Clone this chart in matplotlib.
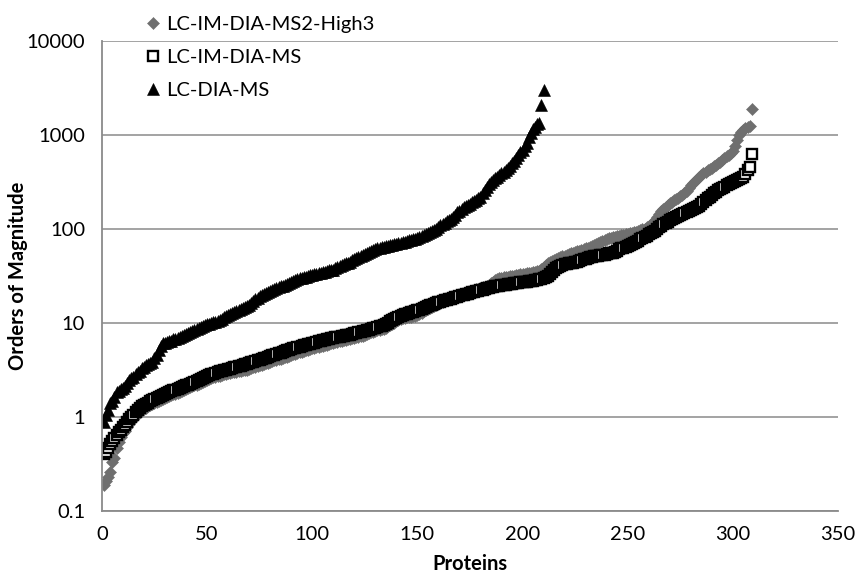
import matplotlib.pyplot as plt
from matplotlib.ticker import FixedLocator, FuncFormatter, NullLocator


SERIES_NAMES = ["LC-IM-DIA-MS2-High3", "LC-IM-DIA-MS", "LC-DIA-MS"]

# LC-IM-DIA-MS2-High3, proteins 1..309 (sorted)
high3_values = [
    0.19, 0.21, 0.23, 0.26, 0.33, 0.37, 0.47, 0.55, 0.62, 0.67,
    0.72, 0.78, 0.84, 0.9, 0.96, 1.02, 1.08, 1.14, 1.18, 1.22,
    1.26, 1.3, 1.34, 1.38, 1.42, 1.45, 1.48, 1.52, 1.55, 1.59,
    1.62, 1.66, 1.7, 1.74, 1.78, 1.82, 1.86, 1.9, 1.95, 2.0,
    2.03, 2.07, 2.12, 2.17, 2.22, 2.27, 2.32, 2.38, 2.44, 2.5,
    2.56, 2.61, 2.66, 2.7, 2.73, 2.76, 2.8, 2.84, 2.88, 2.92,
    2.95, 2.98, 3.02, 3.05, 3.08, 3.11, 3.14, 3.17, 3.2, 3.26,
    3.32, 3.38, 3.44, 3.5, 3.56, 3.62, 3.68, 3.74, 3.8, 3.87,
    3.94, 4.0, 4.06, 4.12, 4.18, 4.24, 4.32, 4.4, 4.48, 4.56,
    4.64, 4.72, 4.8, 4.88, 4.96, 5.04, 5.12, 5.2, 5.3, 5.4,
    5.45, 5.5, 5.58, 5.66, 5.74, 5.82, 5.9, 5.98, 6.06, 6.14,
    6.22, 6.3, 6.38, 6.46, 6.54, 6.62, 6.7, 6.78, 6.86, 6.95,
    7.05, 7.15, 7.25, 7.35, 7.5, 7.65, 7.8, 7.95, 8.1, 8.25,
    8.4, 8.5, 8.55, 8.6, 8.9, 9.2, 9.5, 9.8, 10.1, 10.4,
    10.7, 11.0, 11.2, 11.4, 11.5, 11.6, 11.7, 11.8, 12.0, 12.3,
    12.6, 12.9, 13.3, 13.7, 14.1, 14.5, 14.9, 15.3, 15.7, 16.1,
    16.5, 16.9, 17.2, 17.5, 17.8, 18.1, 18.4, 18.8, 19.2, 19.6,
    20.0, 20.4, 20.8, 21.2, 21.6, 22.0, 22.4, 22.8, 23.2, 23.6,
    24.0, 24.4, 24.8, 25.5, 26.5, 27.5, 28.5, 29.3, 29.8, 30.2,
    30.5, 30.8, 31.1, 31.4, 31.7, 32.0, 32.3, 32.6, 32.9, 33.2,
    33.5, 33.8, 34.1, 34.4, 34.7, 35.0, 35.5, 36.0, 37.5, 39.0,
    41.0, 43.0, 44.5, 46.0, 47.0, 48.0, 49.0, 50.0, 51.0, 52.0,
    53.0, 54.0, 55.0, 56.0, 57.0, 58.0, 59.0, 60.0, 61.0, 62.0,
    63.5, 65.0, 66.5, 68.0, 69.5, 71.0, 73.0, 75.0, 77.0, 78.5,
    80.0, 81.0, 82.0, 83.0, 84.0, 85.0, 86.0, 87.0, 88.0, 89.0,
    90.0, 91.0, 92.0, 93.5, 95.0, 97.0, 99.0, 101.0, 104.0, 108.0,
    112, 116, 124, 134, 145, 155, 163, 172, 180, 188,
    195, 202, 209, 216, 222, 228, 240, 255, 270, 290,
    305, 320, 340, 360, 375, 390, 405, 420, 435, 450,
    465, 480, 500, 520, 540, 565, 590, 615, 640, 680,
    760, 880, 1000, 1080, 1130, 1170, 1200, 1250, 1900,
]

# LC-IM-DIA-MS, proteins 1..309 (sorted)
im_values = [
    0.41, 0.43, 0.47, 0.52, 0.56, 0.6, 0.65, 0.69, 0.73, 0.78,
    0.83, 0.88, 0.95, 1.0, 1.05, 1.12, 1.18, 1.25, 1.3, 1.34,
    1.38, 1.42, 1.47, 1.52, 1.56, 1.6, 1.64, 1.68, 1.72, 1.76,
    1.8, 1.84, 1.88, 1.92, 1.96, 2.0, 2.04, 2.08, 2.12, 2.17,
    2.21, 2.25, 2.3, 2.36, 2.42, 2.48, 2.54, 2.6, 2.66, 2.72,
    2.78, 2.84, 2.9, 2.96, 3.02, 3.06, 3.1, 3.14, 3.18, 3.22,
    3.27, 3.32, 3.37, 3.42, 3.47, 3.52, 3.58, 3.64, 3.7, 3.76,
    3.82, 3.88, 3.94, 4.0, 4.07, 4.14, 4.21, 4.28, 4.36, 4.44,
    4.52, 4.6, 4.68, 4.76, 4.85, 4.94, 5.03, 5.12, 5.21, 5.3,
    5.38, 5.46, 5.54, 5.62, 5.7, 5.78, 5.86, 5.94, 6.02, 6.1,
    6.2, 6.3, 6.4, 6.5, 6.58, 6.66, 6.74, 6.82, 6.9, 6.98,
    7.05, 7.12, 7.19, 7.26, 7.33, 7.4, 7.47, 7.55, 7.65, 7.75,
    7.85, 7.95, 8.05, 8.15, 8.25, 8.35, 8.45, 8.6, 8.75, 8.9,
    9.05, 9.2, 9.35, 9.5, 9.8, 10.1, 10.4, 10.7, 11.0, 11.3,
    11.5, 11.8, 12.1, 12.4, 12.6, 12.8, 13.0, 13.2, 13.4, 13.6,
    13.9, 14.2, 14.5, 14.8, 15.1, 15.4, 15.7, 16.0, 16.3, 16.6,
    16.9, 17.2, 17.4, 17.6, 17.9, 18.2, 18.5, 18.8, 19.1, 19.4,
    19.7, 20.0, 20.3, 20.6, 20.9, 21.2, 21.5, 21.8, 22.1, 22.4,
    22.7, 23.0, 23.3, 23.6, 23.9, 24.2, 24.5, 24.8, 25.0, 25.2,
    25.4, 25.6, 25.8, 26.0, 26.2, 26.4, 26.6, 26.8, 27.0, 27.2,
    27.4, 27.6, 27.8, 28.0, 28.3, 28.6, 28.9, 29.2, 29.6, 30.0,
    30.5, 31.5, 33.0, 35.0, 37.0, 38.5, 39.5, 40.5, 41.5, 42.0,
    42.5, 43.0, 43.5, 44.0, 44.5, 45.0, 45.5, 46.5, 47.5, 48.5,
    49.5, 50.0, 50.5, 51.0, 51.5, 52.0, 52.5, 53.0, 53.5, 54.5,
    55.0, 55.5, 56.0, 57.5, 59.0, 60.5, 62.0, 63.5, 65.0, 66.5,
    68.0, 69.5, 71.0, 73.0, 75.0, 77.5, 80.0, 82.5, 85.0, 87.5,
    90, 93, 96, 100, 104, 108, 112, 116, 120, 124,
    127, 130, 133, 136, 140, 144, 148, 152, 156, 160,
    164, 168, 172, 176, 183, 192, 201, 211, 221, 231,
    240, 250, 258, 266, 274, 282, 290, 298, 306, 314,
    322, 330, 338, 346, 354, 380, 420, 460, 620,
]

# LC-DIA-MS, proteins 1..210 (sorted)
dia_values = [
    0.88, 1.05, 1.2, 1.4, 1.5, 1.65, 1.85, 1.9, 2.0, 2.05,
    2.15, 2.3, 2.5, 2.6, 2.7, 2.85, 3.0, 3.1, 3.3, 3.4,
    3.6, 3.7, 3.8, 3.9, 4.2, 4.6, 5.2, 5.7, 6.1, 6.2,
    6.3, 6.4, 6.5, 6.7, 6.8, 7.0, 7.1, 7.3, 7.4, 7.6,
    7.8, 8.0, 8.2, 8.4, 8.6, 8.9, 9.1, 9.3, 9.5, 9.7,
    9.8, 10.0, 10.2, 10.3, 10.5, 10.8, 11.1, 11.5, 11.9, 12.2,
    12.5, 12.7, 13.0, 13.4, 13.8, 14.1, 14.5, 14.8, 15.2, 15.5,
    16.3, 17.0, 17.8, 18.6, 19.2, 19.8, 20.3, 20.7, 21.2, 21.8,
    22.3, 22.8, 23.4, 24.0, 24.5, 25.0, 25.6, 26.2, 26.9, 27.5,
    28.1, 28.7, 29.3, 29.8, 30.3, 30.8, 31.2, 31.7, 32.1, 32.6,
    33.0, 33.5, 34.0, 34.4, 34.9, 35.3, 35.8, 36.2, 36.6, 37.0,
    38.0, 39.0, 40.0, 41.0, 42.0, 43.0, 44.0, 45.0, 46.5, 48.0,
    49.0, 50.5, 51.5, 53.0, 54.0, 55.0, 56.5, 58.0, 59.5, 61.0,
    62.0, 63.0, 64.0, 65.0, 65.5, 66.5, 67.0, 68.0, 69.0, 70.0,
    70.5, 71.0, 72.0, 73.0, 74.5, 75.5, 76.5, 77.5, 78.5, 80.0,
    82.0, 84.0, 86.0, 88.0, 90.0, 92.0, 95.0, 98.0, 101.0, 105.0,
    109, 113, 117, 121, 125, 129, 134, 142, 150, 157,
    164, 170, 176, 181, 185, 192, 198, 205, 212, 220,
    240, 260, 280, 300, 315, 330, 345, 360, 375, 390,
    405, 420, 440, 465, 500, 530, 570, 610, 650, 690,
    760, 830, 950, 1050, 1150, 1200, 1300, 1350, 2100, 3000,
]

Y_TICKS = [0.1, 1, 10, 100, 1000, 10000]
X_TICKS = [0, 50, 100, 150, 200, 250, 300, 350]

FONT = "Lato"
AXIS_GRAY = "#8a8a8a"
TEXT_SIZE = 14.5


def draw_chart() -> plt.Figure:
    fig = plt.figure(figsize=(8.56, 5.75), dpi=100)
    ax = fig.add_axes([0.119, 0.111, 0.860, 0.818])

    high3_x = list(range(1, len(high3_values) + 1))
    im_x = list(range(1, len(im_values) + 1))
    dia_x = list(range(1, len(dia_values) + 1))

    ax.plot(high3_x, high3_values, linestyle="none", marker="D", ms=6.2,
            color="#6f6f6f", mec="#6f6f6f", mew=0.4, label=SERIES_NAMES[0])
    ax.plot(im_x, im_values, linestyle="none", marker="s", ms=6.8,
            mfc="white", mec="black", mew=1.7, label=SERIES_NAMES[1])
    ax.plot(dia_x, dia_values, linestyle="none", marker="^", ms=8.2,
            color="black", mew=0.4, label=SERIES_NAMES[2])

    ax.set_yscale("log")
    ax.set_ylim(0.1, 10000)
    ax.set_xlim(0, 350)
    ax.yaxis.set_major_locator(FixedLocator(Y_TICKS))
    ax.yaxis.set_minor_locator(NullLocator())
    ax.yaxis.set_major_formatter(FuncFormatter(lambda v, _: f"{v:g}"))
    ax.xaxis.set_major_locator(FixedLocator(X_TICKS))

    ax.grid(axis="y", color=AXIS_GRAY, linewidth=1.1)
    ax.set_axisbelow(True)
    for side in ["top", "right"]:
        ax.spines[side].set_visible(False)
    for side in ["left", "bottom"]:
        ax.spines[side].set_color(AXIS_GRAY)
        ax.spines[side].set_linewidth(1.3)

    ax.tick_params(axis="both", length=0, labelsize=TEXT_SIZE)
    ax.tick_params(axis="y", pad=12)
    ax.tick_params(axis="x", pad=11)
    for label in ax.get_xticklabels() + ax.get_yticklabels():
        label.set_fontfamily(FONT)

    ax.set_xlabel("Proteins", fontfamily=FONT, fontsize=TEXT_SIZE,
                  fontweight="bold")
    ax.set_ylabel("Orders of Magnitude", fontfamily=FONT, fontsize=TEXT_SIZE,
                  fontweight="bold")
    ax.xaxis.set_label_coords(0.5, -0.090)
    ax.yaxis.set_label_coords(-0.100, 0.5)

    fig.legend(loc="upper left", bbox_to_anchor=(0.162, 0.979),
               frameon=False, prop={"family": FONT, "size": TEXT_SIZE},
               handletextpad=0.15, labelspacing=0.78, handlelength=1.0,
               borderaxespad=0, borderpad=0.2, numpoints=1)
    return fig


def main() -> None:
    fig = draw_chart()
    fig.savefig("out.png", dpi=100)
    plt.close(fig)


if __name__ == "__main__":
    main()
